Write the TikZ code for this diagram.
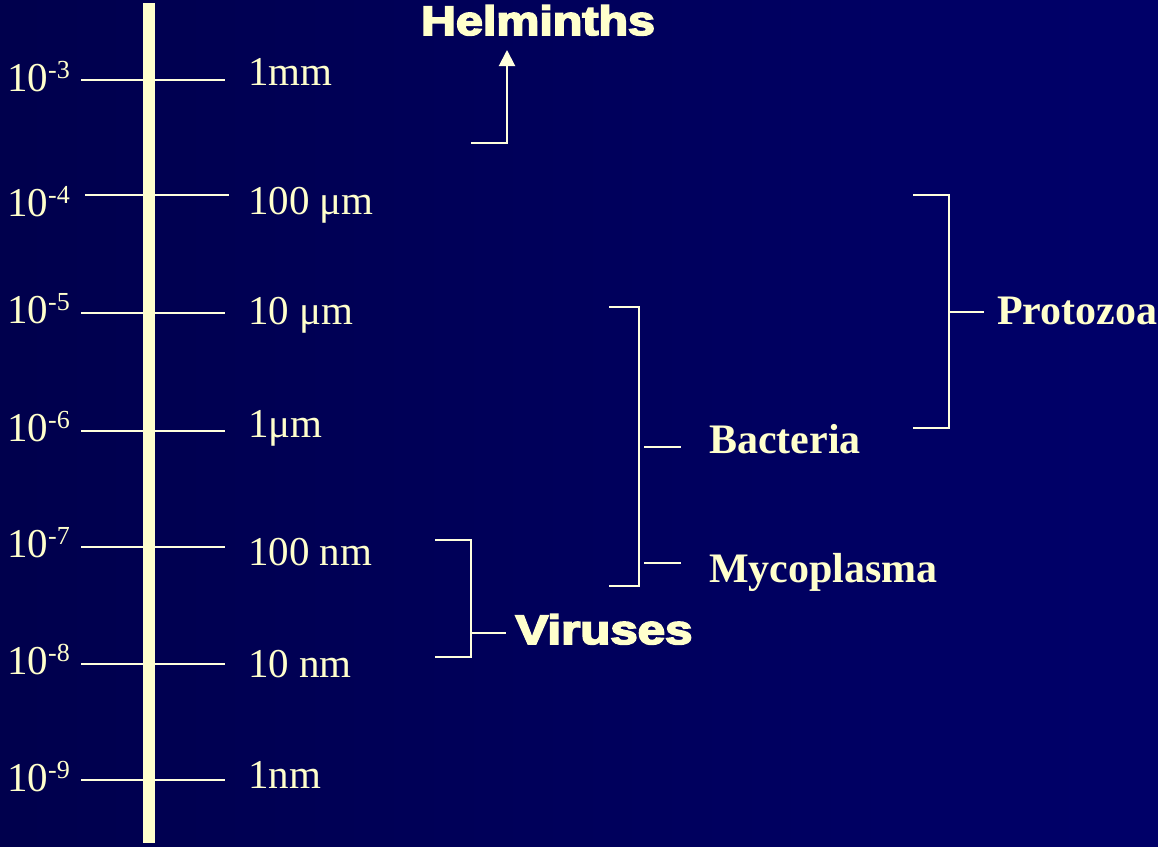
\documentclass[tikz,border=0pt]{standalone}
\usepackage{fontspec}
\setmainfont{Liberation Serif}
\newfontfamily\heavyfont{Liberation Sans}[FakeBold=4]
\usetikzlibrary{arrows.meta}
\definecolor{pale}{HTML}{FFFFCC}
\definecolor{paleline}{HTML}{FFFFDD}
\definecolor{bgl}{HTML}{00003E}
\definecolor{bgm}{HTML}{000068}
\definecolor{bgr}{HTML}{00004A}
\pgfdeclarehorizontalshading{bgshade}{100bp}{color(0bp)=(bgl); color(72bp)=(bgm); color(84bp)=(bgm); color(100bp)=(bgr)}
\newcommand\supx[1]{\raisebox{13pt}{\fontsize{26}{26}\selectfont #1}}
\tikzset{
  lab/.style={inner sep=0pt, anchor=base west, text=pale, font=\fontsize{41}{41}\selectfont},
  boldlab/.style={lab, font=\fontsize{42}{42}\selectfont\bfseries},
  heavylab/.style={inner sep=0pt, anchor=base, text=pale, font=\fontsize{41}{41}\selectfont\heavyfont\bfseries},
  tickline/.style={draw=paleline, line width=2pt},
  brk/.style={draw=paleline, line width=2pt},
  barline/.style={draw=pale, line width=12pt},
}
\begin{document}
\begin{tikzpicture}[x=1pt,y=-1pt]
\useasboundingbox (0,0) rectangle (1158,846);
\shade[shading=bgshade] (0,0) rectangle (1158,846);

% scale ticks
\foreach \n/\y/\xa/\xb in {3/80/81/225, 4/195/85/229, 5/313/81/225, 6/431/81/225, 7/547/81/225, 8/664/81/225, 9/780/81/225}{
  \coordinate (ta\n) at (\xa,\y);
  \coordinate (tb\n) at (\xb,\y);
  \draw[tickline] (ta\n) -- (tb\n);
}
% bar
\coordinate (bartop) at (149,3);
\coordinate (barbot) at (149,843);
\draw[barline] (bartop) -- (barbot);

% left labels
\node[lab] (l3) at (7,91)  {10\supx{-3}};
\node[lab] (l4) at (7,216) {10\supx{-4}};
\node[lab] (l5) at (7,323) {10\supx{-5}};
\node[lab] (l6) at (7,441) {10\supx{-6}};
\node[lab] (l7) at (7,557) {10\supx{-7}};
\node[lab] (l8) at (7,674) {10\supx{-8}};
\node[lab] (l9) at (7,791) {10\supx{-9}};

% right labels
\node[lab] (r3) at (248,85)  {1mm};
\node[lab] (r4) at (248,214) {100 μm};
\node[lab] (r5) at (248,324) {10 μm};
\node[lab] (r6) at (248,437) {1μm};
\node[lab] (r7) at (248,565) {100 nm};
\node[lab] (r8) at (248,677) {10 nm};
\node[lab] (r9) at (248,788) {1nm};

% Helminths
\node[heavylab] (helm) at (538,35) {\scalebox{1.18}[1]{Helminths}};
\coordinate (hs) at (471,143);
\coordinate (hc) at (507,143);
\coordinate (htip) at (507,50);
\draw[brk, -{Triangle[width=16pt,length=16pt]}] (hs) -- (hc) -- (htip);

% Protozoa
\node[boldlab] (proto) at (997,324) {Protozoa};
\coordinate (pa) at (913,195);
\coordinate (pb) at (949,195);
\coordinate (pc) at (949,428);
\coordinate (pd) at (913,428);
\coordinate (pm) at (949,312);
\coordinate (pe) at (984,312);
\draw[brk] (pa) -- (pb) -- (pc) -- (pd);
\draw[brk] (pm) -- (pe);

% Bacteria / Mycoplasma
\node[boldlab] (bact) at (709,453) {Bacteria};
\node[boldlab] (myco) at (709,582) {Mycoplasma};
\coordinate (ba) at (609,307);
\coordinate (bb) at (639,307);
\coordinate (bc) at (639,586);
\coordinate (bd) at (609,586);
\draw[brk] (ba) -- (bb) -- (bc) -- (bd);
\coordinate (bt1) at (644,447);
\coordinate (bt2) at (681,447);
\coordinate (mt1) at (644,563);
\coordinate (mt2) at (681,563);
\draw[brk] (bt1) -- (bt2);
\draw[brk] (mt1) -- (mt2);

% Viruses
\node[heavylab] (vir) at (604,644) {\scalebox{1.2}[1]{Viruses}};
\coordinate (va) at (435,540);
\coordinate (vb) at (471,540);
\coordinate (vc) at (471,657);
\coordinate (vd) at (435,657);
\coordinate (vm) at (471,633);
\coordinate (ve) at (506,633);
\draw[brk] (va) -- (vb) -- (vc) -- (vd);
\draw[brk] (vm) -- (ve);
\end{tikzpicture}
\end{document}
